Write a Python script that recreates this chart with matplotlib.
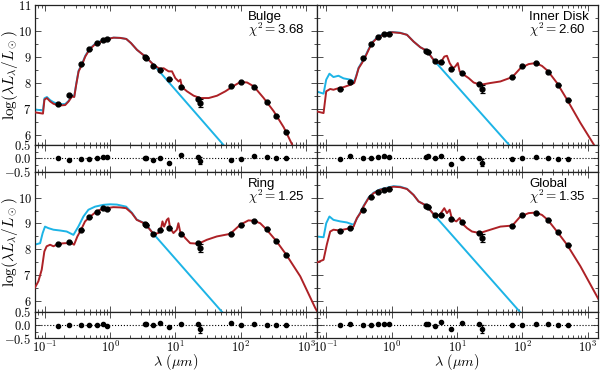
import math
import matplotlib
matplotlib.use("Agg")
import matplotlib.pyplot as plt
from matplotlib.ticker import FuncFormatter, MultipleLocator, LogLocator, NullFormatter, FixedLocator

plt.rcParams['mathtext.fontset'] = 'cm'
plt.rcParams['font.family'] = ['DejaVu Sans']

# ---------------- data ----------------
lam_obs = [0.16, 0.235, 0.36, 0.48, 0.625, 0.77, 0.91, 3.4, 3.6, 4.6, 5.8, 8.0, 12, 22, 24,
           70, 100, 160, 250, 350, 500]
err_obs = [0, 0, 0, 0, 0, 0, 0, 0, 0, 0, 0, 0, 0, 0, 0.14, 0, 0, 0, 0, 0, 0]

panel_names = ["Bulge", "Inner Disk", "Ring", "Global"]
chi2_values = ["3.68", "2.60", "1.25", "1.35"]

bulge_obs = [7.18, 7.51, 8.73, 9.30, 9.53, 9.64, 9.69, 9.01, 8.97, 8.63, 8.50, 8.15, 7.83, 7.36, 7.22,
             7.88, 8.03, 7.82, 7.27, 6.70, 6.10]
bulge_res = [0.0, -0.05, -0.04, -0.01, 0.01, 0.05, 0.04, 0.01, 0.01, -0.08, 0.02, -0.18, 0.12, 0.06, -0.09,
             -0.05, -0.01, 0.07, 0.04, 0.01, 0.01]
inner_obs = [7.77, 8.04, 8.94, 9.51, 9.78, 9.87, 9.87, 9.23, 9.19, 8.83, 8.79, 8.54, 8.36, 7.95, 7.76,
             8.24, 8.65, 8.76, 8.42, 7.92, 7.35]
inner_res = [-0.01, 0.09, 0.02, 0.01, 0.05, 0.09, 0.04, 0.06, 0.07, 0.0, 0.1, -0.21, 0.01, 0.01, -0.16,
             -0.04, 0.0, 0.06, 0.02, -0.02, -0.04]
ring_obs = [8.22, 8.27, 8.73, 9.24, 9.46, 9.59, 9.55, 8.99, 8.95, 8.60, 8.76, 8.82, 8.60, 8.24, 8.05,
            8.60, 8.95, 9.10, 8.78, 8.33, 7.80]
ring_res = [-0.04, -0.01, -0.01, -0.02, 0.01, 0.04, -0.04, 0.02, 0.04, -0.02, 0.09, -0.09, 0.02, 0.02, -0.15,
            0.06, -0.01, 0.05, 0.01, -0.01, -0.01]
global_obs = [8.72, 8.82, 9.53, 10.01, 10.21, 10.30, 10.33, 9.69, 9.65, 9.31, 9.33, 9.17, 9.04, 8.63, 8.44,
              8.92, 9.31, 9.42, 9.14, 8.69, 8.18]
global_res = [-0.01, 0.05, 0.01, 0.0, 0.03, 0.04, 0.02, 0.03, 0.03, -0.03, 0.10, -0.14, 0.06, 0.03, -0.15,
              -0.02, 0.0, 0.03, 0.02, -0.01, 0.0]

# attenuated (total) model, dark red
bulge_red_lam = [0.07, 0.094, 0.099, 0.108, 0.121, 0.136, 0.163, 0.206, 0.232, 0.261, 0.283, 0.303, 0.330,
                 0.371, 0.417, 0.486, 0.593, 0.708, 0.895, 1.13, 1.43, 1.77, 2.09, 2.58, 3.46, 4.64, 5.73,
                 6.60, 7.87, 8.86, 9.96, 11.2, 11.9, 12.6, 15.0, 19.0, 24.0, 32.3, 43.3, 58.1, 77.9, 98.6,
                 125, 158, 224, 319, 454, 609, 685]
bulge_red = [6.86, 6.81, 7.35, 7.41, 7.28, 7.19, 7.12, 7.14, 7.28, 7.47, 7.45, 7.92, 8.44, 8.69, 9.01, 9.29,
             9.49, 9.58, 9.68, 9.74, 9.73, 9.69, 9.53, 9.27, 9.01, 8.69, 8.54, 8.56, 8.44, 8.44, 8.18, 8.05,
             8.12, 7.83, 7.67, 7.50, 7.41, 7.41, 7.50, 7.67, 7.88, 8.03, 8.01, 7.86, 7.41, 6.90, 6.28, 5.62, 5.29]
inner_red_lam = [0.07, 0.091, 0.100, 0.115, 0.129, 0.154, 0.184, 0.233, 0.268, 0.288, 0.313, 0.352, 0.395,
                 0.445, 0.500, 0.632, 0.801, 1.01, 1.36, 1.72, 2.17, 2.75, 3.48, 4.40, 5.25, 5.90, 6.41,
                 7.04, 7.74, 8.71, 9.45, 10.3, 11.0, 12.7, 15.1, 18.0, 22.8, 32.5, 46.2, 70.5, 93.4, 125,
                 160, 200, 245, 340, 484, 775, 1240]
inner_red = [6.90, 6.83, 7.67, 7.76, 7.73, 7.79, 7.83, 7.92, 7.99, 8.24, 8.56, 8.76, 8.99, 9.27, 9.53, 9.78,
             9.88, 9.95, 9.92, 9.85, 9.59, 9.37, 9.23, 8.88, 8.76, 8.86, 9.01, 9.04, 8.76, 8.56, 8.63, 8.76,
             8.44, 8.31, 8.18, 8.01, 7.92, 7.99, 8.05, 8.22, 8.56, 8.72, 8.76, 8.65, 8.46, 7.99, 7.35, 6.45, 5.62]
ring_red_lam = [0.07, 0.080, 0.090, 0.0987, 0.107, 0.121, 0.136, 0.162, 0.205, 0.259, 0.281, 0.316, 0.360,
                0.414, 0.483, 0.589, 0.703, 0.889, 1.12, 1.42, 1.76, 2.15, 2.56, 3.44, 4.61, 5.50, 5.97,
                6.33, 6.71, 7.38, 7.82, 8.30, 9.33, 10.5, 11.1, 11.8, 14.1, 16.8, 22.5, 30.2, 43.0, 68.8,
                97.9, 131, 160, 198, 245, 348, 495, 813, 1378, 1600]
ring_red = [6.50, 6.77, 7.22, 7.92, 8.12, 8.18, 8.12, 8.22, 8.24, 8.24, 8.18, 8.50, 8.76, 9.08, 9.24, 9.42,
            9.53, 9.59, 9.63, 9.62, 9.59, 9.40, 9.14, 8.99, 8.60, 8.63, 8.76, 9.08, 8.88, 9.14, 9.20, 8.82,
            8.63, 8.76, 9.01, 8.69, 8.44, 8.24, 8.22, 8.37, 8.50, 8.60, 8.95, 9.12, 9.10, 9.01, 8.78, 8.33,
            7.80, 6.96, 5.74, 5.45]
global_red_lam = [0.07, 0.091, 0.102, 0.115, 0.129, 0.158, 0.196, 0.233, 0.262, 0.295, 0.332, 0.373, 0.445,
                  0.531, 0.671, 0.849, 1.07, 1.36, 1.72, 2.17, 2.59, 3.40, 4.56, 5.43, 5.90, 6.41, 7.04,
                  7.74, 8.40, 9.79, 11.0, 11.9, 14.3, 17.0, 22.3, 32.5, 46.2, 70.5, 93.4, 125, 160, 200,
                  245, 340, 484, 775, 1479]
global_red = [7.48, 7.60, 8.18, 8.69, 8.76, 8.73, 8.78, 8.82, 8.88, 9.21, 9.40, 9.66, 9.98, 10.17, 10.30,
              10.36, 10.42, 10.40, 10.33, 10.10, 9.85, 9.69, 9.31, 9.33, 9.46, 9.59, 9.40, 9.53, 9.17, 9.08,
              9.21, 9.01, 8.82, 8.69, 8.63, 8.76, 8.88, 8.92, 9.27, 9.40, 9.42, 9.33, 9.14, 8.69, 8.18, 7.35,
              6.06]

# unattenuated stellar model, cyan
bulge_blue_lam = [0.07, 0.094, 0.099, 0.108, 0.121, 0.136, 0.163, 0.206, 0.232, 0.261, 0.283, 0.303, 0.330,
                  0.371, 0.417, 0.486, 0.593, 0.708, 0.895, 1.13, 1.43, 1.77, 2.09, 2.58, 3.46, 4.64, 53.5, 80]
bulge_blue = [6.97, 6.93, 7.40, 7.45, 7.33, 7.25, 7.17, 7.18, 7.30, 7.50, 7.48, 7.95, 8.47, 8.72, 9.04,
              9.31, 9.51, 9.60, 9.69, 9.74, 9.73, 9.69, 9.53, 9.27, 9.01, 8.69, 5.62, 5.09]
inner_blue_lam = [0.07, 0.091, 0.100, 0.112, 0.129, 0.154, 0.184, 0.233, 0.268, 0.288, 0.313, 0.352, 0.395,
                  0.445, 0.500, 0.632, 0.801, 1.01, 1.36, 1.72, 2.17, 2.75, 3.48, 4.40, 62, 90]
inner_blue = [7.67, 7.58, 8.12, 8.35, 8.22, 8.27, 8.17, 8.12, 8.05, 8.27, 8.58, 8.80, 9.02, 9.30, 9.55,
              9.80, 9.90, 9.96, 9.93, 9.85, 9.59, 9.37, 9.23, 8.88, 5.62, 5.10]
ring_blue_lam = [0.07, 0.085, 0.093, 0.101, 0.114, 0.136, 0.171, 0.217, 0.275, 0.327, 0.391, 0.466, 0.589,
                 0.791, 1.0, 1.27, 1.76, 2.15, 2.56, 3.44, 4.61, 49.5, 80]
ring_blue = [8.18, 8.24, 8.63, 8.88, 8.82, 8.76, 8.73, 8.69, 8.56, 8.88, 9.27, 9.53, 9.65, 9.72, 9.74,
             9.73, 9.65, 9.42, 9.15, 9.00, 8.60, 5.64, 5.05]
global_blue_lam = [0.07, 0.091, 0.100, 0.112, 0.129, 0.164, 0.207, 0.262, 0.288, 0.332, 0.373, 0.445, 0.531,
                   0.671, 0.849, 1.07, 1.36, 1.72, 2.17, 2.59, 3.40, 4.56, 88.2, 120]
global_blue = [8.50, 8.47, 9.01, 9.27, 9.14, 9.08, 9.04, 8.95, 9.14, 9.42, 9.68, 10.00, 10.19, 10.32, 10.38,
               10.44, 10.42, 10.34, 10.10, 9.85, 9.69, 9.31, 5.64, 5.26]

panels = [
    (bulge_obs, bulge_res, bulge_red_lam, bulge_red, bulge_blue_lam, bulge_blue),
    (inner_obs, inner_res, inner_red_lam, inner_red, inner_blue_lam, inner_blue),
    (ring_obs, ring_res, ring_red_lam, ring_red, ring_blue_lam, ring_blue),
    (global_obs, global_res, global_red_lam, global_red, global_blue_lam, global_blue),
]

RED = '#ad2126'
CYAN = '#1db4e6'

# ---------------- figure ----------------
fig = plt.figure(figsize=(6.0, 3.72), dpi=100)
gs = fig.add_gridspec(4, 2, height_ratios=[140, 26.7, 140, 26.7], hspace=0, wspace=0,
                      left=35 / 600, right=598 / 600, top=1 - 5 / 372, bottom=1 - 338.3 / 372)

xlim = (0.071, 1440)


def style(ax):
    ax.set_xscale('log')
    ax.set_xlim(*xlim)
    ax.tick_params(which='both', direction='in', top=True, right=True, labelsize=9, pad=2.5,
                   width=0.6, color='#333333')
    ax.tick_params(which='major', length=4)
    ax.tick_params(which='minor', length=2)
    ax.xaxis.set_major_locator(LogLocator(base=10, numticks=10))
    ax.xaxis.set_minor_locator(LogLocator(base=10, subs=range(2, 10), numticks=20))
    ax.xaxis.set_minor_formatter(NullFormatter())
    for s in ax.spines.values():
        s.set_linewidth(0.9)
        s.set_color('#222222')


for i, (obs, res, rl, rv, bl, bv) in enumerate(panels):
    row = (i // 2) * 2
    col = i % 2
    ax = fig.add_subplot(gs[row, col])
    axr = fig.add_subplot(gs[row + 1, col])
    style(ax)
    style(axr)

    ax.plot(bl, bv, color=CYAN, lw=1.4, zorder=2)
    ax.plot(rl, rv, color=RED, lw=1.4, zorder=3)
    ax.errorbar(lam_obs, obs, yerr=err_obs, fmt='o', color='black', ms=3.5, elinewidth=0.9,
                capsize=1.8, capthick=0.9, zorder=4)
    ax.set_ylim(5.6, 11)
    ax.yaxis.set_major_locator(MultipleLocator(1))
    ax.yaxis.set_minor_locator(MultipleLocator(0.5))
    if col == 0:
        if row == 0:
            ax.yaxis.set_major_formatter(FuncFormatter(lambda v, p: r"$%d$" % round(v)))
        else:
            ax.yaxis.set_major_formatter(
                FuncFormatter(lambda v, p: r"$%d$" % round(v) if v < 10.5 else ""))
    else:
        ax.tick_params(labelleft=False)
    ax.tick_params(labelbottom=False)

    ax.text(0.755, 0.914, panel_names[i], transform=ax.transAxes, fontsize=9.5,
            family=['Liberation Sans', 'DejaVu Sans'], ha='left', va='center')
    ax.text(0.755, 0.82, r"$\chi^2 = $" + chi2_values[i], transform=ax.transAxes, fontsize=9.5,
            family=['Liberation Sans', 'DejaVu Sans'], ha='left', va='center')

    axr.axhline(0, color='black', ls=':', lw=0.8, zorder=1)
    axr.errorbar(lam_obs, res, yerr=err_obs, fmt='o', color='black', ms=3.0, elinewidth=0.9,
                 capsize=1.5, capthick=0.9, zorder=4)
    axr.set_ylim(-0.5, 0.5)
    axr.yaxis.set_major_locator(FixedLocator([-0.5, 0.0, 0.5]))
    axr.yaxis.set_minor_locator(MultipleLocator(0.25))
    if col == 0:
        axr.yaxis.set_major_formatter(FuncFormatter(lambda v, p: r"$%.1f$" % v))
    else:
        axr.tick_params(labelleft=False)
    if row == 2:
        axr.xaxis.set_major_formatter(
            FuncFormatter(lambda v, p: r"$10^{%d}$" % round(math.log10(v))))
        axr.tick_params(axis='x', pad=1.5)
    else:
        axr.tick_params(labelbottom=False)

ylab = r"$\log(\lambda L_\lambda/L_\odot)$"
fig.text(10 / 600, 1 - 75 / 372, ylab, rotation=90, ha='center', va='center', fontsize=11)
fig.text(10 / 600, 1 - 242 / 372, ylab, rotation=90, ha='center', va='center', fontsize=11)
fig.text(176 / 600, 0.0, r"$\lambda\ (\mu m)$", ha='center', va='bottom', fontsize=10.3)
fig.text(457 / 600, 0.0, r"$\lambda\ (\mu m)$", ha='center', va='bottom', fontsize=10.3)

fig.savefig('out.png', dpi=100)
